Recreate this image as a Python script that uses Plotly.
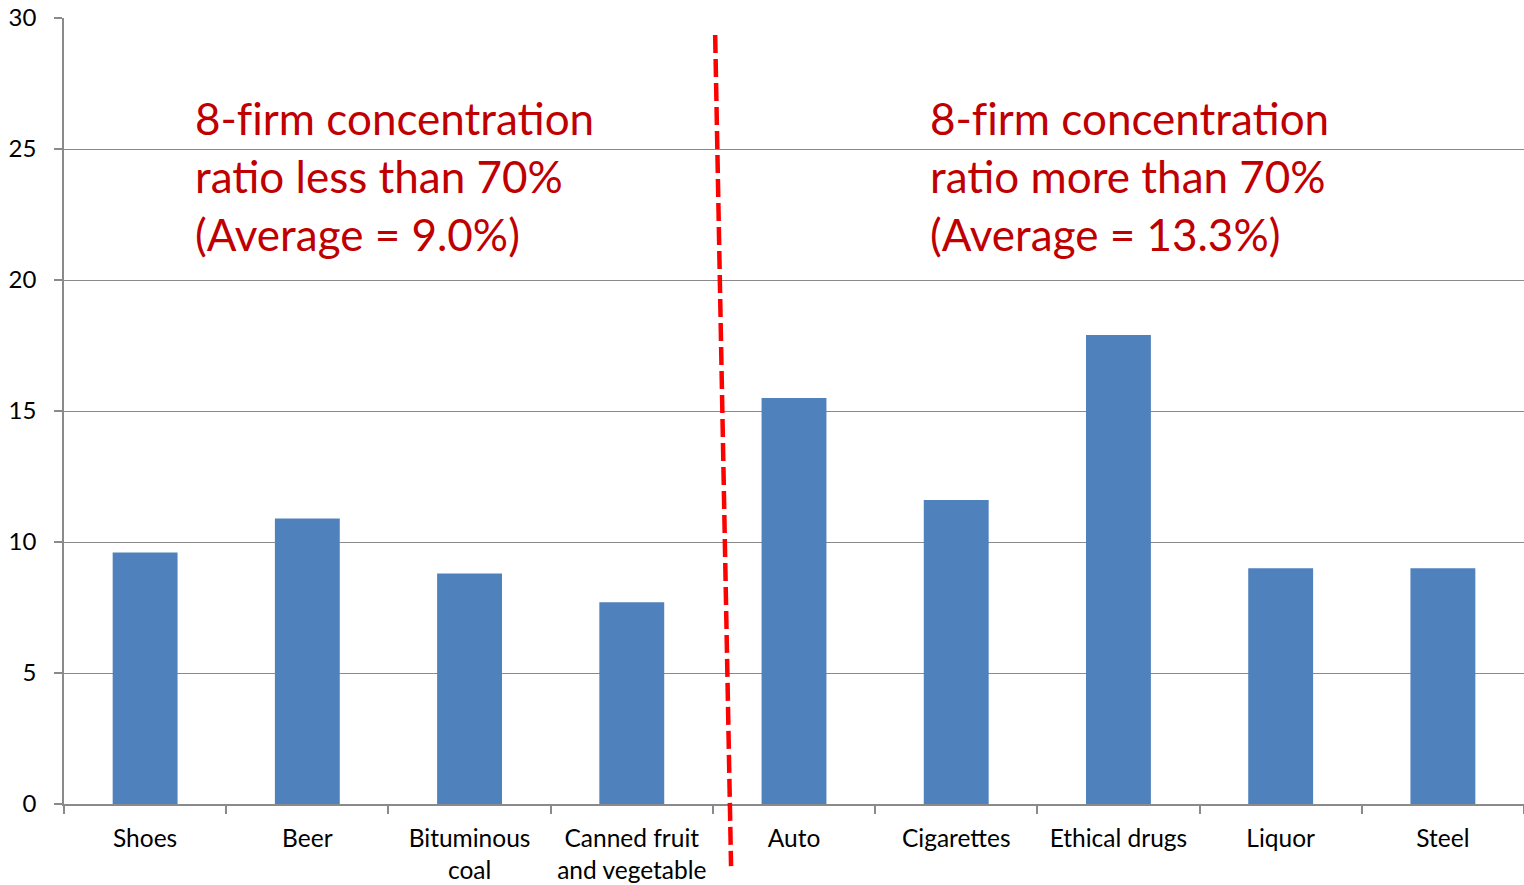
import plotly.graph_objects as go

categories = ["Shoes", "Beer", "Bituminous<br>coal", "Canned fruit<br>and vegetable",
              "Auto", "Cigarettes", "Ethical drugs", "Liquor", "Steel"]
values = [9.6, 10.9, 8.8, 7.7, 15.5, 11.6, 17.9, 9.0, 9.0]
y_ticks = [0, 5, 10, 15, 20, 25, 30]

ZW = "\u200c"  # prevents the fi ligature
left_text = ["8-f" + ZW + "irm concentration", "ratio less than 70%", "(Average = 9.0%)"]
right_text = ["8-f" + ZW + "irm concentration", "ratio more than 70%", "(Average = 13.3%)"]

# divider line (category coordinates), slightly slanted as in original
div_x = [3.514, 3.612]
div_y = [29.35, -2.37]

FONT = "Lato, 'Open Sans', sans-serif"
GRAY = "#8a8a8a"
RED_TXT = "#C00000"

fig = go.Figure()
fig.add_trace(go.Bar(x=list(range(len(categories))), y=values,
                     marker=dict(color="#4F81BD", line=dict(width=0)),
                     width=0.4))

W, H = 1524, 885
ml, mr, mt, mb = 64, 0, 18, 81
n = len(categories)
ymax = 30

def px_x(xd):
    return (xd + 0.5) / n

def px_y(yd):
    return yd / ymax

fig.add_shape(type="line", xref="paper", yref="paper",
              x0=px_x(div_x[0]), x1=px_x(div_x[1]),
              y0=px_y(div_y[0]), y1=px_y(div_y[1]),
              line=dict(color="#FF0000", width=4.5, dash="18px,6px"))

line_y = [118, 176, 234]
for texts, xpix in ((left_text, 193), (right_text, 928)):
    for t, yp in zip(texts, line_y):
        fig.add_annotation(text=t, xref="paper", yref="paper",
                           x=(xpix - ml) / (W - ml - mr),
                           y=(H - mb - yp) / (H - mt - mb),
                           xanchor="left", yanchor="middle", showarrow=False,
                           font=dict(family=FONT, size=44, color=RED_TXT))

fig.update_layout(
    width=W, height=H,
    margin=dict(l=ml, r=mr, t=mt, b=mb, pad=0),
    plot_bgcolor="white", paper_bgcolor="white",
    showlegend=False, bargap=0.6,
    font=dict(family=FONT, size=24, color="black"),
)
fig.update_xaxes(type="linear", range=[-0.5, n - 0.5],
                 tickmode="array", tickvals=list(range(n)), ticktext=categories,
                 showgrid=False, showline=True, linecolor=GRAY, linewidth=1.5,
                 ticks="", zeroline=False, tickfont=dict(size=24.5),
                 ticklabelstandoff=12)
# boundary ticks drawn via minor ticks
fig.update_xaxes(minor=dict(tickmode="array", tickvals=[i - 0.5 for i in range(n + 1)],
                            ticks="outside", ticklen=8, tickcolor=GRAY, tickwidth=1.5,
                            showgrid=False))
fig.update_yaxes(range=[0, ymax], tickmode="array", tickvals=y_ticks,
                 showgrid=True, gridcolor=GRAY, gridwidth=1,
                 showline=True, linecolor=GRAY, linewidth=1.5,
                 ticks="outside", ticklen=8, tickcolor=GRAY, tickwidth=1.5,
                 zeroline=False, tickfont=dict(size=24), ticklabelstandoff=13)

fig.write_html("out.html")
